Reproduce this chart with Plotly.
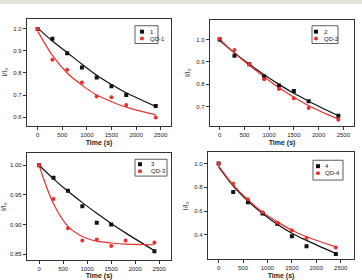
import plotly.graph_objects as go

W, H = 362, 280
t = [0, 300, 600, 900, 1200, 1500, 1800, 2400]

# Panel 1
p1_black = [1.0, 0.955, 0.89, 0.825, 0.78, 0.74, 0.70, 0.65]
p1_red = [1.0, 0.86, 0.815, 0.757, 0.693, 0.69, 0.655, 0.598]
p1_black_fit = [1.005, 0.945, 0.893, 0.84, 0.79, 0.748, 0.71, 0.648]
p1_red_fit = [0.99, 0.88, 0.80, 0.745, 0.70, 0.67, 0.645, 0.61]
# Panel 2
p2_black = [1.0, 0.928, 0.89, 0.835, 0.795, 0.77, 0.725, 0.66]
p2_red = [1.003, 0.953, 0.89, 0.823, 0.779, 0.738, 0.695, 0.642]
p2_black_fit = [0.995, 0.94, 0.89, 0.843, 0.80, 0.76, 0.725, 0.66]
p2_red_fit = [1.0, 0.94, 0.885, 0.833, 0.785, 0.743, 0.705, 0.645]
# Panel 3
p3_black = [1.0, 0.979, 0.957, 0.931, 0.903, 0.90, None, 0.855]
p3_red = [1.0, 0.943, 0.894, 0.873, 0.875, 0.864, 0.873, 0.87]
p3_black_fit = [1.0, 0.977, 0.956, 0.937, 0.919, 0.902, 0.886, 0.856]
p3_red_fit = [1.0, 0.935, 0.897, 0.88, 0.872, 0.869, 0.867, 0.866]
# Panel 4
p4_black = [1.0, 0.76, 0.675, 0.58, 0.495, 0.39, 0.305, 0.24]
p4_red = [1.0, 0.83, 0.70, 0.59, 0.505, 0.44, 0.375, 0.295]
p4_black_fit = [0.97, 0.81, 0.685, 0.58, 0.49, 0.415, 0.355, 0.245]
p4_red_fit = [0.98, 0.82, 0.695, 0.59, 0.51, 0.44, 0.385, 0.30]

names = [("1", "QD-1"), ("2", "QD-2"), ("3", "QD-3"), ("4", "QD-4")]
data = [
    (p1_black, p1_red, p1_black_fit, p1_red_fit),
    (p2_black, p2_red, p2_black_fit, p2_red_fit),
    (p3_black, p3_red, p3_black_fit, p3_red_fit),
    (p4_black, p4_red, p4_black_fit, p4_red_fit),
]

# pixel boxes (x0, x1, ytop, ybottom)
boxes = [(27, 171, 19, 127), (210, 354, 20, 127), (27, 171, 155, 263), (208, 354, 154, 262)]
yranges = [[0.561, 1.046], [0.616, 1.088], [0.84, 1.02], [0.197, 1.093]]
xranges = [[-216, 2710], [-195, 2716], [-252, 2745], [-217, 2772]]
ytickvals = [[0.6, 0.7, 0.8, 0.9, 1.0], [0.7, 0.8, 0.9, 1.0], [0.85, 0.90, 0.95, 1.00], [0.4, 0.6, 0.8, 1.0]]
ytickfmt = [".1f", ".1f", ".2f", ".1f"]
# legend boxes: (x0, x1, y0, y1, row1_y, row2_y, marker_x, text_x)
legboxes = [(135, 158, 26, 44, 32, 39, 142, 148),
            (312, 338, 26, 44, 32, 39, 316, 322),
            (135, 167, 161, 178, 166, 173, 140, 149),
            (313, 343, 162, 182, 168, 175, 318, 323)]

BLACK = "#111111"
RED = "#e8312f"
FONT = "Liberation Sans"

fig = go.Figure()
layout = dict(width=W, height=H, margin=dict(l=0, r=0, t=0, b=0),
              paper_bgcolor="white", plot_bgcolor="white", showlegend=False,
              font=dict(family=FONT, size=6, color="#222"))
shapes = [dict(type="rect", xref="paper", yref="paper", x0=0, x1=1, y0=1 - 4 / H, y1=1,
               fillcolor="#e4e4dc", line=dict(width=0), layer="below")]
annotations = []

for i in range(4):
    k = "" if i == 0 else str(i + 1)
    xa, ya = "x" + k, "y" + k
    b, r, bf, rf = data[i]
    fig.add_trace(go.Scatter(x=t, y=bf, mode="lines", line=dict(color=BLACK, width=1.2, shape="spline"),
                             xaxis=xa, yaxis=ya, hoverinfo="skip"))
    fig.add_trace(go.Scatter(x=t, y=rf, mode="lines", line=dict(color=RED, width=1.2, shape="spline"),
                             xaxis=xa, yaxis=ya, hoverinfo="skip"))
    fig.add_trace(go.Scatter(x=t, y=b, mode="markers", name=names[i][0],
                             marker=dict(symbol="square", size=4, color=BLACK),
                             xaxis=xa, yaxis=ya))
    fig.add_trace(go.Scatter(x=t, y=r, mode="markers", name=names[i][1],
                             marker=dict(symbol="circle", size=4, color=RED),
                             xaxis=xa, yaxis=ya))
    x0, x1, yt, yb = boxes[i]
    common = dict(showline=True, linecolor="#333", linewidth=1.2, mirror=True,
                  ticks="outside", ticklen=3, tickwidth=1, tickcolor="#333",
                  showgrid=False, zeroline=False, tickfont=dict(size=6, family=FONT, color="#222"))
    layout["xaxis" + k] = dict(domain=[x0 / W, x1 / W], anchor=ya, range=xranges[i],
                               tickvals=[0, 500, 1000, 1500, 2000, 2500],
                               title=dict(text="Time (s)", font=dict(size=7, family=FONT, weight="bold"), standoff=3),
                               **common)
    layout["yaxis" + k] = dict(domain=[1 - yb / H, 1 - yt / H], anchor=xa, range=yranges[i],
                               tickvals=ytickvals[i], tickformat=ytickfmt[i],
                               title=dict(text="I/I₀", font=dict(size=7, family=FONT), standoff=4),
                               **common)
    lx0, lx1, ly0, ly1, r1, r2, mx, tx = legboxes[i]
    shapes.append(dict(type="rect", xref="paper", yref="paper", x0=lx0 / W, x1=lx1 / W,
                       y0=1 - ly1 / H, y1=1 - ly0 / H, fillcolor="white",
                       line=dict(color="#333", width=0.8)))
    shapes.append(dict(type="rect", xref="paper", yref="paper", x0=(mx - 2) / W, x1=(mx + 2) / W,
                       y0=1 - (r1 + 2) / H, y1=1 - (r1 - 2) / H, fillcolor=BLACK, line=dict(width=0)))
    shapes.append(dict(type="circle", xref="paper", yref="paper", x0=(mx - 2) / W, x1=(mx + 2) / W,
                       y0=1 - (r2 + 2) / H, y1=1 - (r2 - 2) / H, fillcolor=RED, line=dict(width=0)))
    for (ry, label) in [(r1, names[i][0]), (r2, names[i][1])]:
        annotations.append(dict(xref="paper", yref="paper", x=tx / W, y=1 - ry / H,
                                xanchor="left", yanchor="middle", showarrow=False,
                                text=label, font=dict(size=6, color="#222", family=FONT)))

layout["shapes"] = shapes
layout["annotations"] = annotations
fig.update_layout(**layout)
fig.write_html("out.html")
